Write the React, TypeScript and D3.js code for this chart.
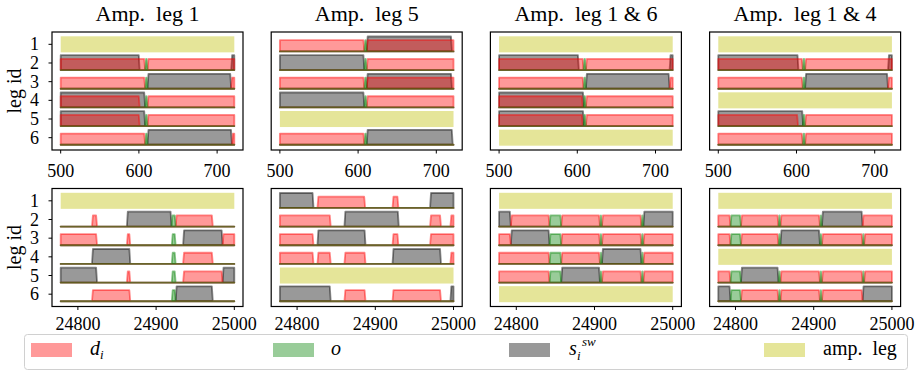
import React from "react";
import * as d3 from "d3";

type Kind = "d" | "o" | "s";
type Seg = [number, Kind, number, number]; // leg, phase, start, end

const LEG_IDS = [1, 2, 3, 4, 5, 6];
const TITLES = ["Amp.  leg 1", "Amp.  leg 5", "Amp.  leg 1 & 6", "Amp.  leg 1 & 4"];
const AMPUTATED = [[1], [5], [1, 6], [1, 4]];
const EARLY_RANGE: [number, number] = [500, 722];
const LATE_RANGE: [number, number] = [24778, 25000];
const EARLY_TICKS = [500, 600, 700];
const LATE_TICKS = [24800, 24900, 25000];

// first window (t = 500 .. 722)
const early1: Seg[] = [
  [2, "s", 500, 601], [2, "d", 500, 608], [2, "o", 608, 611], [2, "d", 611, 722], [2, "s", 718, 722],
  [3, "d", 500, 608], [3, "o", 608, 611], [3, "s", 611, 718], [3, "d", 718, 722],
  [4, "s", 500, 608], [4, "d", 500, 601], [4, "o", 608, 611], [4, "d", 611, 722],
  [5, "s", 500, 608], [5, "d", 500, 601], [5, "o", 608, 611], [5, "d", 611, 722],
  [6, "d", 500, 608], [6, "o", 608, 611], [6, "s", 611, 719], [6, "d", 719, 722],
];
const early2: Seg[] = [
  [1, "d", 500, 608], [1, "o", 608, 611], [1, "d", 611, 722], [1, "s", 611, 720],
  [2, "s", 500, 608], [2, "o", 608, 611], [2, "d", 611, 722],
  [3, "d", 500, 608], [3, "o", 608, 611], [3, "d", 611, 722], [3, "s", 611, 720],
  [4, "s", 500, 608], [4, "o", 608, 611], [4, "d", 611, 722],
  [6, "d", 500, 608], [6, "o", 608, 611], [6, "s", 611, 721],
];
const early3: Seg[] = [
  [2, "s", 500, 602], [2, "d", 500, 608], [2, "o", 608, 611], [2, "d", 611, 722], [2, "s", 718, 722],
  [3, "d", 500, 608], [3, "o", 608, 611], [3, "s", 611, 718], [3, "d", 718, 722],
  [4, "s", 500, 608.5], [4, "d", 500, 607], [4, "o", 608, 611], [4, "d", 611, 722],
  [5, "s", 500, 608.5], [5, "d", 500, 607], [5, "o", 608, 611], [5, "d", 611, 722],
];
const early4: Seg[] = [
  [2, "s", 500, 602.5], [2, "d", 500, 608], [2, "o", 608, 611], [2, "d", 611, 722], [2, "s", 717, 722],
  [3, "d", 500, 608], [3, "o", 608, 611], [3, "s", 611, 717], [3, "d", 717, 722],
  [5, "s", 500, 608.5], [5, "d", 500, 602], [5, "o", 608, 611], [5, "d", 611, 722],
  [6, "d", 500, 608], [6, "o", 608, 611], [6, "d", 611, 722],
];

// last window (t = 24778 .. 25000)
const late1: Seg[] = [
  [2, "d", 24818, 24824.5], [2, "s", 24862.6, 24919.7], [2, "o", 24919.7, 24925], [2, "d", 24925, 24972.5],
  [3, "d", 24778, 24824.5], [3, "d", 24862.6, 24867], [3, "o", 24920, 24925], [3, "s", 24934.5, 24985], [3, "d", 24985, 25000],
  [4, "s", 24818, 24867], [4, "o", 24920, 24925], [4, "d", 24934.5, 24972.5],
  [5, "s", 24778, 24824.5], [5, "d", 24862.6, 24867], [5, "o", 24920, 24925], [5, "d", 24934.5, 24985], [5, "s", 24985, 25000],
  [6, "d", 24818, 24867], [6, "o", 24920, 24925], [6, "s", 24925, 24972.5],
];
const late2: Seg[] = [
  [1, "s", 24778, 24821], [1, "d", 24826, 24887], [1, "d", 24922, 24929.5], [1, "s", 24970, 25000],
  [2, "d", 24778, 24843], [2, "s", 24860.5, 24930], [2, "d", 24970, 24984], [2, "d", 24996, 25000],
  [3, "d", 24778, 24821], [3, "s", 24826, 24887.5], [3, "d", 24922, 24929.5], [3, "d", 24970, 25000],
  [4, "d", 24778, 24821], [4, "d", 24826, 24843], [4, "d", 24860.5, 24887.5], [4, "s", 24922, 24984], [4, "d", 24996, 25000],
  [6, "s", 24778, 24843], [6, "d", 24860.5, 24887.5], [6, "d", 24922, 24984], [6, "s", 24996, 25000],
];
const late3: Seg[] = [
  [2, "s", 24778, 24793], [2, "d", 24793, 24842.5], [2, "o", 24842.5, 24857.5], [2, "d", 24857.5, 24907],
  [2, "o", 24907, 24909.5], [2, "d", 24909.5, 24960], [2, "o", 24960, 24962.5], [2, "s", 24962.5, 25000],
  [3, "d", 24778, 24793], [3, "s", 24793, 24842.5], [3, "o", 24842.5, 24857.5], [3, "d", 24857.5, 24907],
  [3, "o", 24907, 24909.5], [3, "d", 24909.5, 24960], [3, "o", 24960, 24962.5], [3, "d", 24962.5, 25000],
  [4, "d", 24778, 24842.5], [4, "o", 24842.5, 24857.5], [4, "d", 24857.5, 24907], [4, "o", 24907, 24909.5],
  [4, "s", 24909.5, 24960], [4, "o", 24960, 24962.5], [4, "d", 24962.5, 25000],
  [5, "d", 24778, 24842.5], [5, "o", 24842.5, 24857.5], [5, "s", 24857.5, 24907], [5, "o", 24907, 24909.5],
  [5, "d", 24909.5, 24960], [5, "o", 24960, 24962.5], [5, "d", 24962.5, 25000],
];
const late4: Seg[] = [
  [2, "d", 24778, 24793.6], [2, "o", 24793.6, 24807], [2, "d", 24807, 24855], [2, "o", 24855, 24857.5],
  [2, "d", 24857.5, 24908], [2, "o", 24908, 24910.5], [2, "s", 24910.5, 24962.5], [2, "d", 24962.5, 25000],
  [3, "d", 24778, 24793.6], [3, "o", 24793.6, 24807], [3, "d", 24807, 24855], [3, "o", 24855, 24857.5],
  [3, "s", 24857.5, 24908], [3, "o", 24908, 24910.5], [3, "d", 24910.5, 24962.5], [3, "o", 24962.5, 24964.5], [3, "d", 24964.5, 25000],
  [5, "d", 24778, 24793.6], [5, "o", 24793.6, 24807], [5, "s", 24807, 24855], [5, "o", 24855, 24857.5],
  [5, "d", 24857.5, 24908], [5, "o", 24908, 24910.5], [5, "d", 24910.5, 24962.5], [5, "o", 24962.5, 24964.5], [5, "d", 24964.5, 25000],
  [6, "s", 24778, 24793.6], [6, "o", 24793.6, 24807], [6, "d", 24807, 24855], [6, "o", 24855, 24857.5],
  [6, "d", 24857.5, 24908], [6, "o", 24908, 24910.5], [6, "d", 24910.5, 24962.5], [6, "s", 24962.5, 25000],
];

const EARLY = [early1, early2, early3, early4];
const LATE = [late1, late2, late3, late4];

const COLOR: Record<string, string> = { d: "red", o: "green", s: "black", amp: "#bfbf00" };
const FONT = "'Liberation Serif', 'DejaVu Serif', serif";
const W = 918;
const H = 373;
const PANEL_W = 191;
const PANEL_H = 118;
const COL_X = [0, 1, 2, 3].map((i) => 52 + i * 219.2);
const ROW_Y = [32, 188.5];

function phasePath(segs: Seg[], kind: Kind, leg: number, x: any, y: any, dom: [number, number]) {
  const base = leg + 0.38;
  const top = base - (kind === "s" ? 0.8 : 0.6);
  const pts: [number, number][] = [[dom[0], base]];
  segs
    .filter((s) => s[0] === leg && s[1] === kind)
    .sort((a, b) => a[2] - b[2])
    .forEach(([, , a, b]) => {
      const r = Math.min(1.2, (b - a) / 2);
      if (a <= dom[0]) pts.push([a, top]);
      else pts.push([a, base], [a + r, top]);
      if (b >= dom[1]) pts.push([b, top]);
      else pts.push([b - r, top], [b, base]);
    });
  pts.push([dom[1], base]);
  return d3.line()(pts.map(([u, v]) => [x(u), y(v)] as [number, number])) + "Z";
}

function Panel({ col, row }: { col: number; row: number }) {
  const left = COL_X[col];
  const top = ROW_Y[row];
  const dom = row === 0 ? EARLY_RANGE : LATE_RANGE;
  const ticks = row === 0 ? EARLY_TICKS : LATE_TICKS;
  const segs = row === 0 ? EARLY[col] : LATE[col];
  const amp = AMPUTATED[col];
  const pad = (dom[1] - dom[0]) * 0.05;
  const x = d3.scaleLinear().domain([dom[0] - pad, dom[1] + pad]).range([left, left + PANEL_W]);
  const y = d3.scaleLinear().domain([0.34, 6.66]).range([top, top + PANEL_H]);

  return (
    <g>
      {LEG_IDS.map((leg) =>
        amp.includes(leg) ? (
          <rect
            key={leg}
            x={x(dom[0])}
            width={x(dom[1]) - x(dom[0])}
            y={y(leg - 0.43)}
            height={y(leg + 0.43) - y(leg - 0.43)}
            fill={COLOR.amp}
            fillOpacity={0.4}
          />
        ) : (
          <g key={leg}>
            {(["s", "d", "o"] as Kind[]).map((k) => (
              <path
                key={k}
                d={phasePath(segs, k, leg, x, y, dom)}
                fill={COLOR[k]}
                fillOpacity={0.4}
                stroke={COLOR[k]}
                strokeOpacity={0.45}
                strokeWidth={1.8}
                strokeLinejoin="round"
              />
            ))}
          </g>
        )
      )}
      <rect x={left} y={top} width={PANEL_W} height={PANEL_H} fill="none" stroke="#000" strokeWidth={1.2} />
      {ticks.map((t) => (
        <g key={t}>
          <line x1={x(t)} x2={x(t)} y1={top + PANEL_H} y2={top + PANEL_H + 3.5} stroke="#000" strokeWidth={1} />
          <text x={x(t)} y={row === 0 ? 177 : 330} textAnchor="middle" fontSize={18} fontFamily={FONT}>
            {t}
          </text>
        </g>
      ))}
      {col === 0 &&
        LEG_IDS.map((leg) => (
          <g key={leg}>
            <line x1={left - 3.5} x2={left} y1={y(leg)} y2={y(leg)} stroke="#000" strokeWidth={1} />
            <text x={left - 13} y={y(leg)} dy="0.34em" textAnchor="end" fontSize={18} fontFamily={FONT}>
              {leg}
            </text>
          </g>
        ))}
      {col === 0 && (
        <text
          transform={`translate(21,${top + PANEL_H / 2}) rotate(-90)`}
          textAnchor="middle"
          fontSize={20}
          fontFamily={FONT}
        >
          leg id
        </text>
      )}
      {row === 0 && (
        <text
          x={left + PANEL_W / 2}
          y={21}
          textAnchor="middle"
          fontSize={22}
          fontFamily={FONT}
          style={{ whiteSpace: "pre" }}
        >
          {TITLES[col]}
        </text>
      )}
    </g>
  );
}

function Legend() {
  const items = [
    { k: "d", px: 31 },
    { k: "o", px: 273 },
    { k: "s", px: 509 },
    { k: "amp", px: 764 },
  ];
  return (
    <g>
      <rect x={24.5} y={334.5} width={883} height={35} rx={3} fill="#fff" stroke="#d0d0d0" strokeWidth={1} />
      {items.map((it) => (
        <rect key={it.k} x={it.px} y={343} width={41} height={14} fill={COLOR[it.k]} fillOpacity={0.4} />
      ))}
      <text x={90} y={355} fontFamily={FONT} fontSize={20}>
        <tspan fontStyle="italic">d</tspan>
        <tspan fontStyle="italic" fontSize={13} dy={4}>i</tspan>
      </text>
      <text x={331} y={355} fontFamily={FONT} fontSize={20} fontStyle="italic">
        o
      </text>
      <text x={569} y={355} fontFamily={FONT} fontSize={20} fontStyle="italic">
        s
      </text>
      <text x={577} y={360} fontFamily={FONT} fontSize={13} fontStyle="italic">
        i
      </text>
      <text x={582} y={346} fontFamily={FONT} fontSize={13} fontStyle="italic">
        sw
      </text>
      <text x={823} y={355} fontFamily={FONT} fontSize={20} style={{ whiteSpace: "pre" }}>
        amp.  leg
      </text>
    </g>
  );
}

export default function App() {
  return (
    <svg
      width={W}
      height={H}
      style={{ position: "absolute", left: 0, top: 0, background: "#fff" }}
    >
      {[0, 1].map((row) => [0, 1, 2, 3].map((col) => <Panel key={`${row}-${col}`} col={col} row={row} />))}
      <Legend />
    </svg>
  );
}
